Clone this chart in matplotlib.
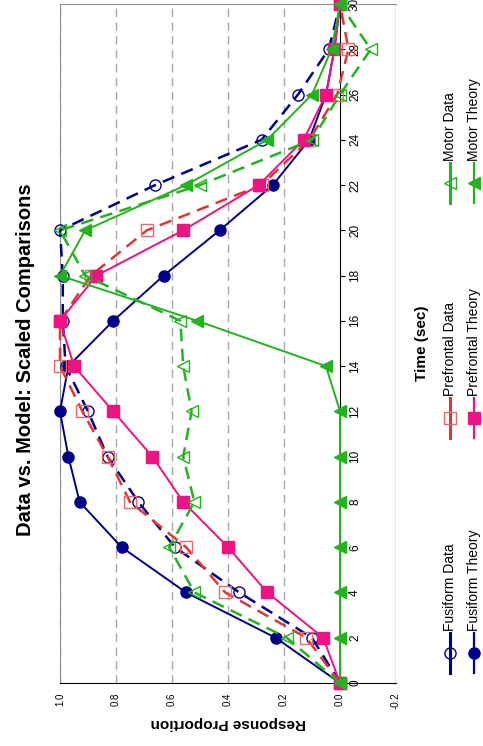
import matplotlib
matplotlib.use("Agg")
import matplotlib.pyplot as plt
from matplotlib.lines import Line2D

plt.rcParams['font.family'] = ['Liberation Sans', 'DejaVu Sans']

# Time points (sec) and scaled response proportions
time = [0, 2, 4, 6, 8, 10, 12, 14, 16, 18, 20, 22, 24, 26, 28, 30]
fusiform_data = [0, 0.10, 0.36, 0.59, 0.72, 0.83, 0.90, 0.98, 0.99, 0.99, 1.00, 0.66, 0.28, 0.15, 0.04, 0]
fusiform_theory = [0, 0.23, 0.55, 0.78, 0.93, 0.97, 1.00, 0.97, 0.81, 0.63, 0.43, 0.24, 0.11, 0.05, 0.02, 0]
prefrontal_data = [0, 0.12, 0.41, 0.55, 0.75, 0.83, 0.92, 1.00, 1.00, 0.89, 0.69, 0.28, 0.11, 0.01, -0.03, 0]
prefrontal_theory = [0, 0.06, 0.26, 0.40, 0.56, 0.67, 0.81, 0.95, 1.00, 0.87, 0.56, 0.29, 0.13, 0.05, 0.02, 0]
motor_data = [0, 0.19, 0.52, 0.61, 0.52, 0.56, 0.53, 0.56, 0.57, 0.91, 1.00, 0.50, 0.10, 0.00, -0.11, 0]
motor_theory = [0, 0, 0, 0, 0, 0, 0, 0.05, 0.51, 1.00, 0.91, 0.55, 0.26, 0.10, 0.03, 0]

value_ticks = [1.0, 0.8, 0.6, 0.4, 0.2, 0.0, -0.2]
value_labels = ['1.0', '0.8', '0.6', '0.4', '0.2', '0.0', '-0.2']
time_ticks = list(range(0, 31, 2))

NAVY = '#00008B'
RED = '#E03535'
RED_MK = '#E86A6A'
PINK = '#EE1283'
GREEN = '#22B31E'
GRID = '#A8A8A8'

W, H = 483, 746
fig = plt.figure(figsize=(W / 100, H / 100), dpi=100)
ax = fig.add_axes([60 / W, 1 - 683 / H, 336 / W, 679 / H])

# Sideways layout: response on the horizontal axis (reversed), time running upward
series = [
    (fusiform_data, dict(color=NAVY, ls=(0, (5, 3)), lw=1.8, marker='o', ms=8,
                         mfc='none', mec=NAVY, mew=1.0), 'Fusiform Data'),
    (fusiform_theory, dict(color=NAVY, ls='-', lw=1.4, marker='o', ms=8,
                           mfc=NAVY, mec=NAVY), 'Fusiform Theory'),
    (prefrontal_data, dict(color=RED, ls=(0, (5, 3)), lw=1.8, marker='s', ms=8,
                           mfc='none', mec=RED_MK, mew=1.0), 'Prefrontal Data'),
    (prefrontal_theory, dict(color=PINK, ls='-', lw=1.4, marker='s', ms=8.5,
                             mfc=PINK, mec=PINK), 'Prefrontal Theory'),
    (motor_data, dict(color=GREEN, ls=(0, (5, 3)), lw=1.8, marker='<', ms=9,
                      mfc='none', mec=GREEN, mew=1.0), 'Motor Data'),
    (motor_theory, dict(color=GREEN, ls='-', lw=1.4, marker='<', ms=9,
                        mfc=GREEN, mec=GREEN), 'Motor Theory'),
]
for vals, style, name in series:
    ax.plot(vals, time, zorder=4, clip_on=False, **style)

ax.set_xlim(1.0, -0.2)
ax.set_ylim(0, 30)

for v in [1.0, 0.8, 0.6, 0.4, 0.2]:
    ax.axvline(v, color=GRID, lw=1.0, ls=(0, (6, 4)), zorder=1)
ax.axvline(-0.2, color='#909090', lw=1.0, zorder=1)

ax.spines['left'].set_color('#909090')
ax.spines['top'].set_color('#909090')
ax.spines['bottom'].set_color('black')
ax.spines['right'].set_position(('data', 0))
ax.spines['right'].set_color('black')

ax.set_xticks(value_ticks)
ax.set_xticklabels(value_labels, rotation=90, fontsize=7)
ax.tick_params(axis='x', length=0, pad=7)

ax.yaxis.set_ticks_position('right')
ax.set_yticks(time_ticks)
ax.set_yticklabels([str(t) for t in time_ticks], rotation=90, fontsize=8.5, va='center')
ax.tick_params(axis='y', length=3.5, width=0.8, pad=3, direction='out')

fig.text(26 / W, 1 - 360 / H, 'Data vs. Model: Scaled Comparisons', rotation=90,
         fontsize=14.5, fontweight='bold', ha='center', va='center')
fig.text(228 / W, 1 - 723 / H, 'Response Proportion', rotation=180,
         fontsize=11, fontweight='bold', ha='center', va='center')
fig.text(422 / W, 1 - 343 / H, 'Time (sec)', rotation=90,
         fontsize=11, fontweight='bold', ha='center', va='center')

# Legend laid out sideways: one group per region, data and theory side by side
groups = [(653, 0), (418, 2), (183, 4)]
cols = [450, 474]
for ymid, start in groups:
    for k, xc in enumerate(cols):
        _, style, name = series[start + k]
        st = dict(style)
        st['ls'] = '-'
        st['lw'] = 2.2 if k == 0 else 1.6
        line = Line2D([xc / W, xc / W], [1 - (ymid + 20) / H, 1 - (ymid - 20) / H],
                      transform=fig.transFigure, **st)
        line.set_markevery([0])
        fig.add_artist(line)
        mk = Line2D([xc / W], [1 - ymid / H], transform=fig.transFigure,
                    ls='none', marker=st['marker'], ms=st['ms'],
                    mfc=st['mfc'], mec=st['mec'])
        fig.add_artist(mk)
        line.set_marker('')
        fig.text(xc / W, 1 - (ymid - 22) / H, name, rotation=90, fontsize=10,
                 ha='center', va='bottom')

fig.savefig('out.png', dpi=100)
